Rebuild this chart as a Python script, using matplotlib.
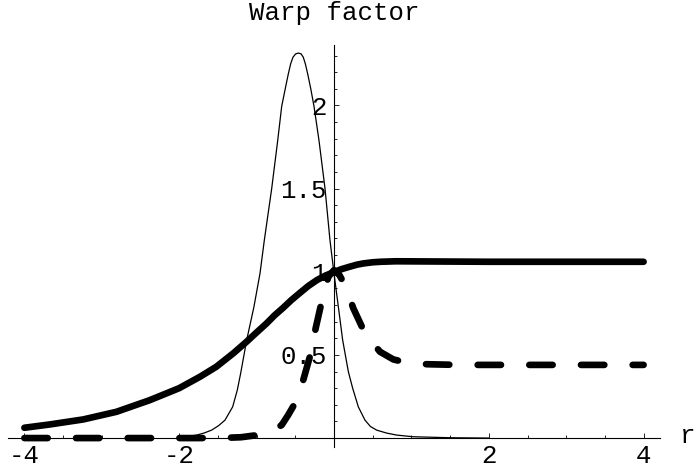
import matplotlib
matplotlib.use("Agg")
import matplotlib.pyplot as plt
from matplotlib.ticker import FixedLocator, NullFormatter

plt.rcParams["font.family"] = ["Liberation Mono", "DejaVu Sans Mono"]
plt.rcParams["lines.scale_dashes"] = False

# thin curve (only drawn on [-2, 2])
thin_x = [-2.0, -1.947, -1.85, -1.774, -1.68, -1.58, -1.49, -1.408, -1.309,
          -1.249, -1.206, -1.128, -1.034, -0.956, -0.90, -0.805, -0.727, -0.676,
          -0.63, -0.59, -0.56, -0.53, -0.495, -0.46, -0.425, -0.397, -0.37,
          -0.34, -0.30, -0.258, -0.194, -0.116, -0.052, 0.0, 0.056, 0.112,
          0.185, 0.241, 0.314, 0.40, 0.47, 0.55, 0.68, 0.81, 1.02, 1.5, 2.0]
thin_y = [0.005, 0.008, 0.013, 0.018, 0.03, 0.048, 0.075, 0.108, 0.188,
          0.289, 0.389, 0.589, 0.79, 0.99, 1.19, 1.50, 1.79, 1.994,
          2.10, 2.19, 2.25, 2.29, 2.31, 2.315, 2.31, 2.29, 2.25,
          2.19, 2.10, 1.994, 1.79, 1.50, 1.19, 0.99, 0.79, 0.589,
          0.40, 0.30, 0.188, 0.108, 0.07, 0.048, 0.03, 0.018, 0.008, 0.002, 0.0]

# thick solid curve
solid_x = [-4.0, -3.67, -3.24, -2.81, -2.38, -2.0, -1.73, -1.52, -1.3, -1.13,
           -1.0, -0.87, -0.77, -0.66, -0.55, -0.44, -0.33, -0.22, -0.11, 0.0,
           0.1, 0.2, 0.3, 0.38, 0.5, 0.6, 0.8, 1.2, 2.0, 3.0, 4.0]
solid_y = [0.062, 0.082, 0.112, 0.158, 0.228, 0.30, 0.369, 0.429, 0.51, 0.579,
           0.635, 0.69, 0.737, 0.782, 0.83, 0.873, 0.915, 0.95, 0.977, 0.998,
           1.016, 1.03, 1.043, 1.05, 1.057, 1.06, 1.063, 1.062, 1.06, 1.06, 1.06]

# thick dashed curve
dash_x = [-4.0, -2.0, -1.5, -1.2, -0.956, -0.8, -0.676, -0.59, -0.504, -0.45,
          -0.397, -0.30, -0.237, -0.159, -0.073, 0.0, 0.07, 0.142, 0.25, 0.40,
          0.594, 0.766, 0.94, 1.2, 1.6, 2.5, 4.0]
dash_y = [0.0, 0.0, 0.0, 0.005, 0.02, 0.045, 0.078, 0.14, 0.209, 0.27,
          0.349, 0.509, 0.66, 0.82, 0.97, 1.01, 0.98, 0.92, 0.78, 0.63,
          0.519, 0.473, 0.453, 0.444, 0.44, 0.44, 0.44]

x_major = [-4, -2, 2, 4]
x_minor = [-3.5, -3, -2.5, -1.5, -1, -0.5, 0.5, 1, 1.5, 2.5, 3, 3.5]
y_major = [0.5, 1, 1.5, 2]
y_major_labels = ["0.5", "1", "1.5", "2"]
y_minor = [0.1, 0.2, 0.3, 0.4, 0.6, 0.7, 0.8, 0.9, 1.1, 1.2, 1.3, 1.4,
           1.6, 1.7, 1.8, 1.9, 2.1, 2.2, 2.3]

fig = plt.figure(figsize=(6.94, 4.71), dpi=100)
ax = fig.add_axes([0, 0, 1, 1])
ax.set_xlim(-4.315, 4.651)
ax.set_ylim(-0.198, 2.634)

ax.plot(thin_x, thin_y, color="black", lw=0.9, solid_joinstyle="round")
ax.plot(solid_x, solid_y, color="black", lw=4.8, solid_capstyle="round",
        solid_joinstyle="round")
ax.plot(dash_x, dash_y, color="black", lw=4.8, linestyle=(0, (16.8, 20.4)),
        dash_capstyle="round", dash_joinstyle="round")

for s in ["top", "right"]:
    ax.spines[s].set_visible(False)
ax.spines["left"].set_position(("data", 0))
ax.spines["bottom"].set_position(("data", 0))
ax.spines["left"].set_bounds(-0.054, 2.363)
ax.spines["bottom"].set_bounds(-4.21, 4.21)
ax.spines["left"].set_linewidth(0.8)
ax.spines["bottom"].set_linewidth(0.8)
ax.patch.set_visible(False)

ax.xaxis.set_major_locator(FixedLocator(x_major))
ax.xaxis.set_minor_locator(FixedLocator(x_minor))
ax.set_xticklabels([str(v) for v in x_major])
ax.yaxis.set_major_locator(FixedLocator(y_major))
ax.yaxis.set_minor_locator(FixedLocator(y_minor))
ax.set_yticklabels(y_major_labels)
ax.xaxis.set_minor_formatter(NullFormatter())
ax.yaxis.set_minor_formatter(NullFormatter())

ax.tick_params(which="major", direction="in", length=3.6, width=0.6,
               labelsize=18.5, pad=4)
ax.tick_params(which="minor", direction="in", length=2.2, width=0.6)
ax.tick_params(axis="y", which="major", pad=5)

fig.text(334 / 694, 1 - 20 / 471, "Warp factor", ha="center", va="baseline",
         fontsize=18.5)
fig.text(680 / 694, 1 - 443 / 471, "r", ha="left", va="baseline", fontsize=18.5)

fig.savefig("out.png", dpi=100)
